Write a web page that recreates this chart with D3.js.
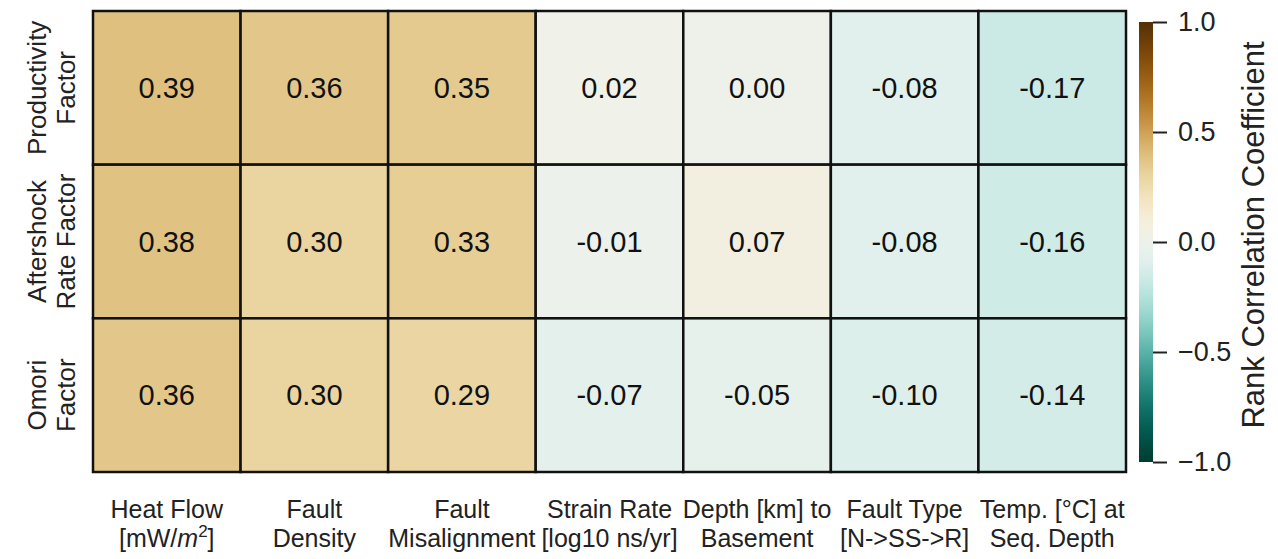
<!DOCTYPE html>
<html>
<head>
<meta charset="utf-8">
<script src="https://cdn.jsdelivr.net/npm/d3@7"></script>
<style>
  html, body { margin: 0; padding: 0; background: #fff; }
  svg { display: block; font-family: "Liberation Sans", Arial, Helvetica, sans-serif; }
</style>
</head>
<body>
<svg id="chart" width="1278" height="559"></svg>
<script>
// Rows: response factors; columns: candidate explanatory variables
const rowLabels = [
  ["Productivity", "Factor"],
  ["Aftershock", "Rate Factor"],
  ["Omori", "Factor"]
];
const colLabels = [
  ["Heat Flow", "[mW/m2]"],
  ["Fault", "Density"],
  ["Fault", "Misalignment"],
  ["Strain Rate", "[log10 ns/yr]"],
  ["Depth [km] to", "Basement"],
  ["Fault Type", "[N->SS->R]"],
  ["Temp. [°C] at", "Seq. Depth"]
];
const productivity = [0.39, 0.36, 0.35, 0.02, 0.00, -0.08, -0.17];
const aftershockRate = [0.38, 0.30, 0.33, -0.01, 0.07, -0.08, -0.16];
const omori = [0.36, 0.30, 0.29, -0.07, -0.05, -0.10, -0.14];
const colorbarTicks = [1.0, 0.5, 0.0, -0.5, -1.0];
const colorbarTitle = "Rank Correlation Coefficient";

const matrix = [productivity, aftershockRate, omori];

const svg = d3.select("#chart");

const plot = { left: 93, top: 11, right: 1126, bottom: 472 };

const x = d3.scaleBand().domain(d3.range(colLabels.length)).range([plot.left, plot.right]).padding(0);
const y = d3.scaleBand().domain(d3.range(rowLabels.length)).range([plot.top, plot.bottom]).padding(0);

// Diverging colour scale: positive correlations brown, negative teal
const color = d3.scaleSequential(t => d3.interpolateBrBG(t)).domain([1, -1]);

const cells = [];
matrix.forEach((row, i) => row.forEach((v, j) => cells.push({ i, j, v })));

const g = svg.append("g");

g.selectAll("rect.cell")
  .data(cells)
  .join("rect")
  .attr("class", "cell")
  .attr("x", d => x(d.j))
  .attr("y", d => y(d.i))
  .attr("width", x.bandwidth())
  .attr("height", y.bandwidth())
  .attr("fill", d => color(d.v))
  .attr("stroke", "#111")
  .attr("stroke-width", 2.5);

g.selectAll("text.val")
  .data(cells)
  .join("text")
  .attr("class", "val")
  .attr("x", d => x(d.j) + x.bandwidth() / 2)
  .attr("y", d => y(d.i) + y.bandwidth() / 2)
  .attr("text-anchor", "middle")
  .attr("dominant-baseline", "central")
  .attr("font-size", 29)
  .attr("fill", "#111")
  .text(d => d.v.toFixed(2));

// Row labels (rotated, two lines)
const rowG = svg.append("g");
rowLabels.forEach((lines, i) => {
  const cy = y(i) + y.bandwidth() / 2;
  const t = rowG.append("text")
    .attr("transform", `translate(${0},${cy}) rotate(-90)`)
    .attr("text-anchor", "middle")
    .attr("font-size", 26)
    .attr("fill", "#222");
  lines.forEach((ln, k) => {
    t.append("tspan").attr("x", 0).attr("y", 46 + k * 29).text(ln);
  });
});

// Column labels (two lines)
const colG = svg.append("g");
colLabels.forEach((lines, j) => {
  const cx = x(j) + x.bandwidth() / 2;
  const t = colG.append("text")
    .attr("text-anchor", "middle")
    .attr("font-size", 25)
    .attr("fill", "#222");
  lines.forEach((ln, k) => {
    const ty = 518 + k * 29;
    if (ln === "[mW/m2]") {
      t.append("tspan").attr("x", cx).attr("y", ty).text("[mW/");
      t.append("tspan").attr("font-style", "italic").text("m");
      t.append("tspan").attr("font-size", 17).attr("dy", -10).text("2");
      t.append("tspan").attr("dy", 10).text("]");
    } else {
      t.append("tspan").attr("x", cx).attr("y", ty).text(ln);
    }
  });
});

// Colour bar
const cb = { x: 1139, w: 14, top: 22, bottom: 462 };
const cbScale = d3.scaleLinear().domain([1, -1]).range([cb.top, cb.bottom]);

const defs = svg.append("defs");
const grad = defs.append("linearGradient")
  .attr("id", "cbgrad")
  .attr("x1", 0).attr("y1", 0).attr("x2", 0).attr("y2", 1);
d3.range(0, 1.0001, 0.02).forEach(p => {
  grad.append("stop")
    .attr("offset", p)
    .attr("stop-color", color(1 - 2 * p));
});
svg.append("rect")
  .attr("x", cb.x)
  .attr("y", cb.top)
  .attr("width", cb.w)
  .attr("height", cb.bottom - cb.top)
  .attr("fill", "url(#cbgrad)");

const cbAxis = d3.axisRight(cbScale)
  .tickValues(colorbarTicks)
  .tickSize(14)
  .tickPadding(11)
  .tickFormat(d => d3.format(".1f")(d).replace("-", "\u2212"));

const axG = svg.append("g")
  .attr("transform", `translate(${cb.x + cb.w},0)`)
  .call(cbAxis);
axG.select(".domain").remove();
axG.selectAll(".tick line").attr("stroke", "#222").attr("stroke-width", 2);
axG.selectAll(".tick text")
  .attr("font-size", 27)
  .attr("font-family", "Liberation Sans, Arial, sans-serif")
  .attr("fill", "#222");

svg.append("text")
  .attr("transform", `translate(1264,${(cb.top + cb.bottom) / 2 - 7}) rotate(-90)`)
  .attr("text-anchor", "middle")
  .attr("font-size", 31)
  .attr("fill", "#222")
  .text(colorbarTitle);
</script>
</body>
</html>
